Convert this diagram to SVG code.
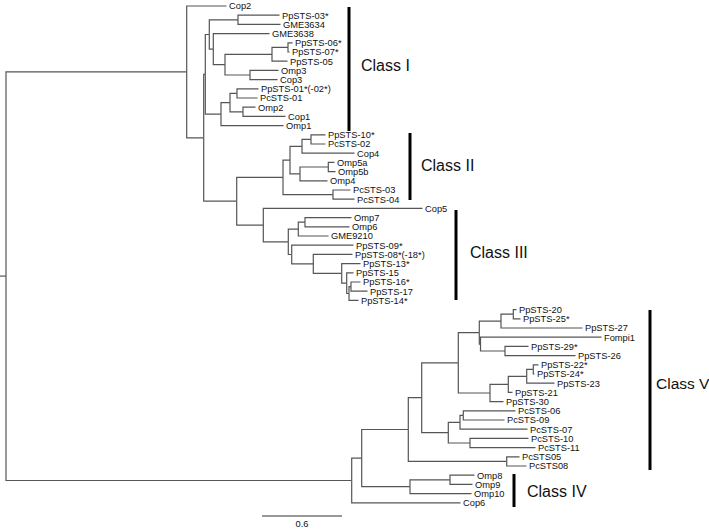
<svg xmlns="http://www.w3.org/2000/svg" width="709" height="529" viewBox="0 0 709 529">
<style>
.t{font-family:"Liberation Sans",Arial,sans-serif;font-size:9.3px;fill:#111}
.c{font-family:"Liberation Sans",Arial,sans-serif;font-size:16px;fill:#111}
.br{fill:none;stroke:#555;stroke-width:1.2}
.bar{stroke:#000;stroke-width:3}
</style>
<rect width="709" height="529" fill="#fff"/>
<g id="connectors" class="br">
<path d="M0 276.1 H6"/>
<path d="M6 276.1 V71.9 H186.7"/>
<path d="M6 276.1 V480.5 H351.7"/>
<path d="M186.7 71.9 V6 H226.5"/>
<path d="M186.7 71.9 V137.8 H203.7"/>
<path d="M203.7 137.8 V74.3 H205.3"/>
<path d="M203.7 137.8 V201.2 H236.7"/>
<path d="M205.3 74.3 V34.5 H209.3"/>
<path d="M205.3 74.3 V114.1 H221"/>
<path d="M209.3 34.5 V19.8 H238"/>
<path d="M209.3 34.5 V49.1 H213.3"/>
<path d="M238 19.8 V15.2 H279.5"/>
<path d="M238 19.8 V24.4 H280.5"/>
<path d="M213.3 49.1 V33.6 H269.5"/>
<path d="M213.3 49.1 V64.65 H225"/>
<path d="M225 64.65 V54.3 H272"/>
<path d="M225 64.65 V75 H250"/>
<path d="M272 54.3 V47.4 H288"/>
<path d="M272 54.3 V61.2 H287.5"/>
<path d="M288 47.4 V42.8 H292.5"/>
<path d="M288 47.4 V52 H289.5"/>
<path d="M250 75 V70.4 H278.5"/>
<path d="M250 75 V79.6 H277.5"/>
<path d="M221 114.1 V102.6 H230"/>
<path d="M221 114.1 V125.6 H283.5"/>
<path d="M230 102.6 V93.4 H237"/>
<path d="M230 102.6 V111.8 H243"/>
<path d="M237 93.4 V88.8 H258.5"/>
<path d="M237 93.4 V98 H257.5"/>
<path d="M243 111.8 V107.2 H255.5"/>
<path d="M243 111.8 V116.4 H285.5"/>
<path d="M236.7 201.2 V177.4 H283"/>
<path d="M236.7 201.2 V225.1 H263.3"/>
<path d="M283 177.4 V160.1 H290"/>
<path d="M283 177.4 V194.6 H333"/>
<path d="M290 160.1 V146.3 H302"/>
<path d="M290 160.1 V173.9 H300"/>
<path d="M302 146.3 V139.4 H311"/>
<path d="M302 146.3 V153.2 H354.5"/>
<path d="M311 139.4 V134.8 H325.5"/>
<path d="M311 139.4 V144 H325.5"/>
<path d="M300 173.9 V167 H328.3"/>
<path d="M300 173.9 V180.8 H327.5"/>
<path d="M328.3 167 V162.4 H334.5"/>
<path d="M328.3 167 V171.6 H335.5"/>
<path d="M333 194.6 V190 H350.5"/>
<path d="M333 194.6 V199.2 H354.5"/>
<path d="M263.3 225.1 V208.4 H422.5"/>
<path d="M263.3 225.1 V241.8 H288.3"/>
<path d="M288.3 241.8 V229.1 H298.3"/>
<path d="M288.3 241.8 V254.5 H291.7"/>
<path d="M298.3 229.1 V222.2 H305"/>
<path d="M298.3 229.1 V236 H328.5"/>
<path d="M305 222.2 V217.6 H351.5"/>
<path d="M305 222.2 V226.8 H349.5"/>
<path d="M291.7 254.5 V245.2 H353.5"/>
<path d="M291.7 254.5 V263.9 H313.3"/>
<path d="M313.3 263.9 V254.4 H352.5"/>
<path d="M313.3 263.9 V273.4 H341.7"/>
<path d="M341.7 273.4 V263.6 H360.5"/>
<path d="M341.7 273.4 V283.15 H346.7"/>
<path d="M346.7 283.15 V272.8 H353.5"/>
<path d="M346.7 283.15 V293.5 H349"/>
<path d="M349 293.5 V286.6 H351"/>
<path d="M349 293.5 V300.4 H358.5"/>
<path d="M351 286.6 V282 H360.5"/>
<path d="M351 286.6 V291.2 H367.5"/>
<path d="M351.7 480.5 V458.1 H361.7"/>
<path d="M351.7 480.5 V502.8 H460.5"/>
<path d="M361.7 458.1 V429.5 H408.3"/>
<path d="M361.7 458.1 V486.7 H410"/>
<path d="M408.3 429.5 V397.7 H421.7"/>
<path d="M408.3 429.5 V461.4 H506.7"/>
<path d="M421.7 397.7 V362.8 H458.3"/>
<path d="M421.7 397.7 V432.7 H448.3"/>
<path d="M458.3 362.8 V332.6 H479.3"/>
<path d="M458.3 362.8 V393 H490"/>
<path d="M479.3 332.6 V321.1 H501"/>
<path d="M479.3 332.6 V344.1 H480.5"/>
<path d="M501 321.1 V314.2 H513.3"/>
<path d="M501 321.1 V328 H582.5"/>
<path d="M513.3 314.2 V309.6 H516.5"/>
<path d="M513.3 314.2 V318.8 H520.5"/>
<path d="M480.5 344.1 V337.2 H601.5"/>
<path d="M480.5 344.1 V351 H505"/>
<path d="M505 351 V346.4 H528.5"/>
<path d="M505 351 V355.6 H575.5"/>
<path d="M490 393 V384.4 H508.3"/>
<path d="M490 393 V401.6 H503.5"/>
<path d="M508.3 384.4 V376.3 H526.7"/>
<path d="M508.3 384.4 V392.4 H512.5"/>
<path d="M526.7 376.3 V369.4 H533.3"/>
<path d="M526.7 376.3 V383.2 H554.5"/>
<path d="M533.3 369.4 V364.8 H538.5"/>
<path d="M533.3 369.4 V374 H534.5"/>
<path d="M448.3 432.7 V422.3 H460"/>
<path d="M448.3 432.7 V443 H470"/>
<path d="M460 422.3 V415.4 H463.3"/>
<path d="M460 422.3 V429.2 H527.5"/>
<path d="M463.3 415.4 V410.8 H515.5"/>
<path d="M463.3 415.4 V420 H504.5"/>
<path d="M470 443 V438.4 H528.5"/>
<path d="M470 443 V447.6 H535.5"/>
<path d="M506.7 461.4 V456.8 H519.5"/>
<path d="M506.7 461.4 V466 H526.5"/>
<path d="M410 486.7 V479.8 H450"/>
<path d="M410 486.7 V493.6 H471.5"/>
<path d="M450 479.8 V475.2 H474.5"/>
<path d="M450 479.8 V484.4 H472.5"/>
</g>
<g id="leaves" class="t">
<g id="n-Cop2"><text x="229" y="9.3">Cop2</text></g>
<g id="n-PpSTS-03"><text x="282" y="18.5">PpSTS-03*</text></g>
<g id="n-GME3634"><text x="283" y="27.7">GME3634</text></g>
<g id="n-GME3638"><text x="272" y="36.9">GME3638</text></g>
<g id="n-PpSTS-06"><text x="295" y="46.1">PpSTS-06*</text></g>
<g id="n-PpSTS-07"><text x="292" y="55.3">PpSTS-07*</text></g>
<g id="n-PpSTS-05"><text x="290" y="64.5">PpSTS-05</text></g>
<g id="n-Omp3"><text x="281" y="73.7">Omp3</text></g>
<g id="n-Cop3"><text x="280" y="82.9">Cop3</text></g>
<g id="n-PpSTS-01"><text x="261" y="92.1">PpSTS-01*(-02*)</text></g>
<g id="n-PcSTS-01"><text x="260" y="101.3">PcSTS-01</text></g>
<g id="n-Omp2"><text x="258" y="110.5">Omp2</text></g>
<g id="n-Cop1"><text x="288" y="119.7">Cop1</text></g>
<g id="n-Omp1"><text x="286" y="128.9">Omp1</text></g>
<g id="n-PpSTS-10"><text x="328" y="138.1">PpSTS-10*</text></g>
<g id="n-PcSTS-02"><text x="328" y="147.3">PcSTS-02</text></g>
<g id="n-Cop4"><text x="357" y="156.5">Cop4</text></g>
<g id="n-Omp5a"><text x="337" y="165.7">Omp5a</text></g>
<g id="n-Omp5b"><text x="338" y="174.9">Omp5b</text></g>
<g id="n-Omp4"><text x="330" y="184.1">Omp4</text></g>
<g id="n-PcSTS-03"><text x="353" y="193.3">PcSTS-03</text></g>
<g id="n-PcSTS-04"><text x="357" y="202.5">PcSTS-04</text></g>
<g id="n-Cop5"><text x="425" y="211.7">Cop5</text></g>
<g id="n-Omp7"><text x="354" y="220.9">Omp7</text></g>
<g id="n-Omp6"><text x="352" y="230.1">Omp6</text></g>
<g id="n-GME9210"><text x="331" y="239.3">GME9210</text></g>
<g id="n-PpSTS-09"><text x="356" y="248.5">PpSTS-09*</text></g>
<g id="n-PpSTS-08"><text x="355" y="257.7">PpSTS-08*(-18*)</text></g>
<g id="n-PpSTS-13"><text x="363" y="266.9">PpSTS-13*</text></g>
<g id="n-PpSTS-15"><text x="356" y="276.1">PpSTS-15</text></g>
<g id="n-PpSTS-16"><text x="363" y="285.3">PpSTS-16*</text></g>
<g id="n-PpSTS-17"><text x="370" y="294.5">PpSTS-17</text></g>
<g id="n-PpSTS-14"><text x="361" y="303.7">PpSTS-14*</text></g>
<g id="n-PpSTS-20"><text x="519" y="312.9">PpSTS-20</text></g>
<g id="n-PpSTS-25"><text x="523" y="322.1">PpSTS-25*</text></g>
<g id="n-PpSTS-27"><text x="585" y="331.3">PpSTS-27</text></g>
<g id="n-Fompi1"><text x="604" y="340.5">Fompi1</text></g>
<g id="n-PpSTS-29"><text x="531" y="349.7">PpSTS-29*</text></g>
<g id="n-PpSTS-26"><text x="578" y="358.9">PpSTS-26</text></g>
<g id="n-PpSTS-22"><text x="541" y="368.1">PpSTS-22*</text></g>
<g id="n-PpSTS-24"><text x="537" y="377.3">PpSTS-24*</text></g>
<g id="n-PpSTS-23"><text x="557" y="386.5">PpSTS-23</text></g>
<g id="n-PpSTS-21"><text x="515" y="395.7">PpSTS-21</text></g>
<g id="n-PpSTS-30"><text x="506" y="404.9">PpSTS-30</text></g>
<g id="n-PcSTS-06"><text x="518" y="414.1">PcSTS-06</text></g>
<g id="n-PcSTS-09"><text x="507" y="423.3">PcSTS-09</text></g>
<g id="n-PcSTS-07"><text x="530" y="432.5">PcSTS-07</text></g>
<g id="n-PcSTS-10"><text x="531" y="441.7">PcSTS-10</text></g>
<g id="n-PcSTS-11"><text x="538" y="450.9">PcSTS-11</text></g>
<g id="n-PcSTS05"><text x="522" y="460.1">PcSTS05</text></g>
<g id="n-PcSTS08"><text x="529" y="469.3">PcSTS08</text></g>
<g id="n-Omp8"><text x="477" y="478.5">Omp8</text></g>
<g id="n-Omp9"><text x="475" y="487.7">Omp9</text></g>
<g id="n-Omp10"><text x="474" y="496.9">Omp10</text></g>
<g id="n-Cop6"><text x="463" y="506.1">Cop6</text></g>
</g>
<g id="classes">
<g id="class-I"><line class="bar" x1="349" y1="7" x2="349" y2="131"/><text class="c" x="361" y="71">Class I</text></g>
<g id="class-II"><line class="bar" x1="410" y1="133" x2="410" y2="200"/><text class="c" x="421" y="171">Class II</text></g>
<g id="class-III"><line class="bar" x1="456" y1="210" x2="456" y2="300"/><text class="c" x="470" y="258">Class III</text></g>
<g id="class-V"><line class="bar" x1="650" y1="310" x2="650" y2="470"/><text class="c" x="656" y="389" style="font-size:15.5px">Class V</text></g>
<g id="class-IV"><line class="bar" x1="514" y1="474" x2="514" y2="507"/><text class="c" x="527" y="497">Class IV</text></g>
</g>
<g id="scale">
<line x1="262" y1="516" x2="342" y2="516" stroke="#333" stroke-width="1.2"/>
<text class="t" x="302" y="527" text-anchor="middle">0.6</text>
</g>
</svg>
